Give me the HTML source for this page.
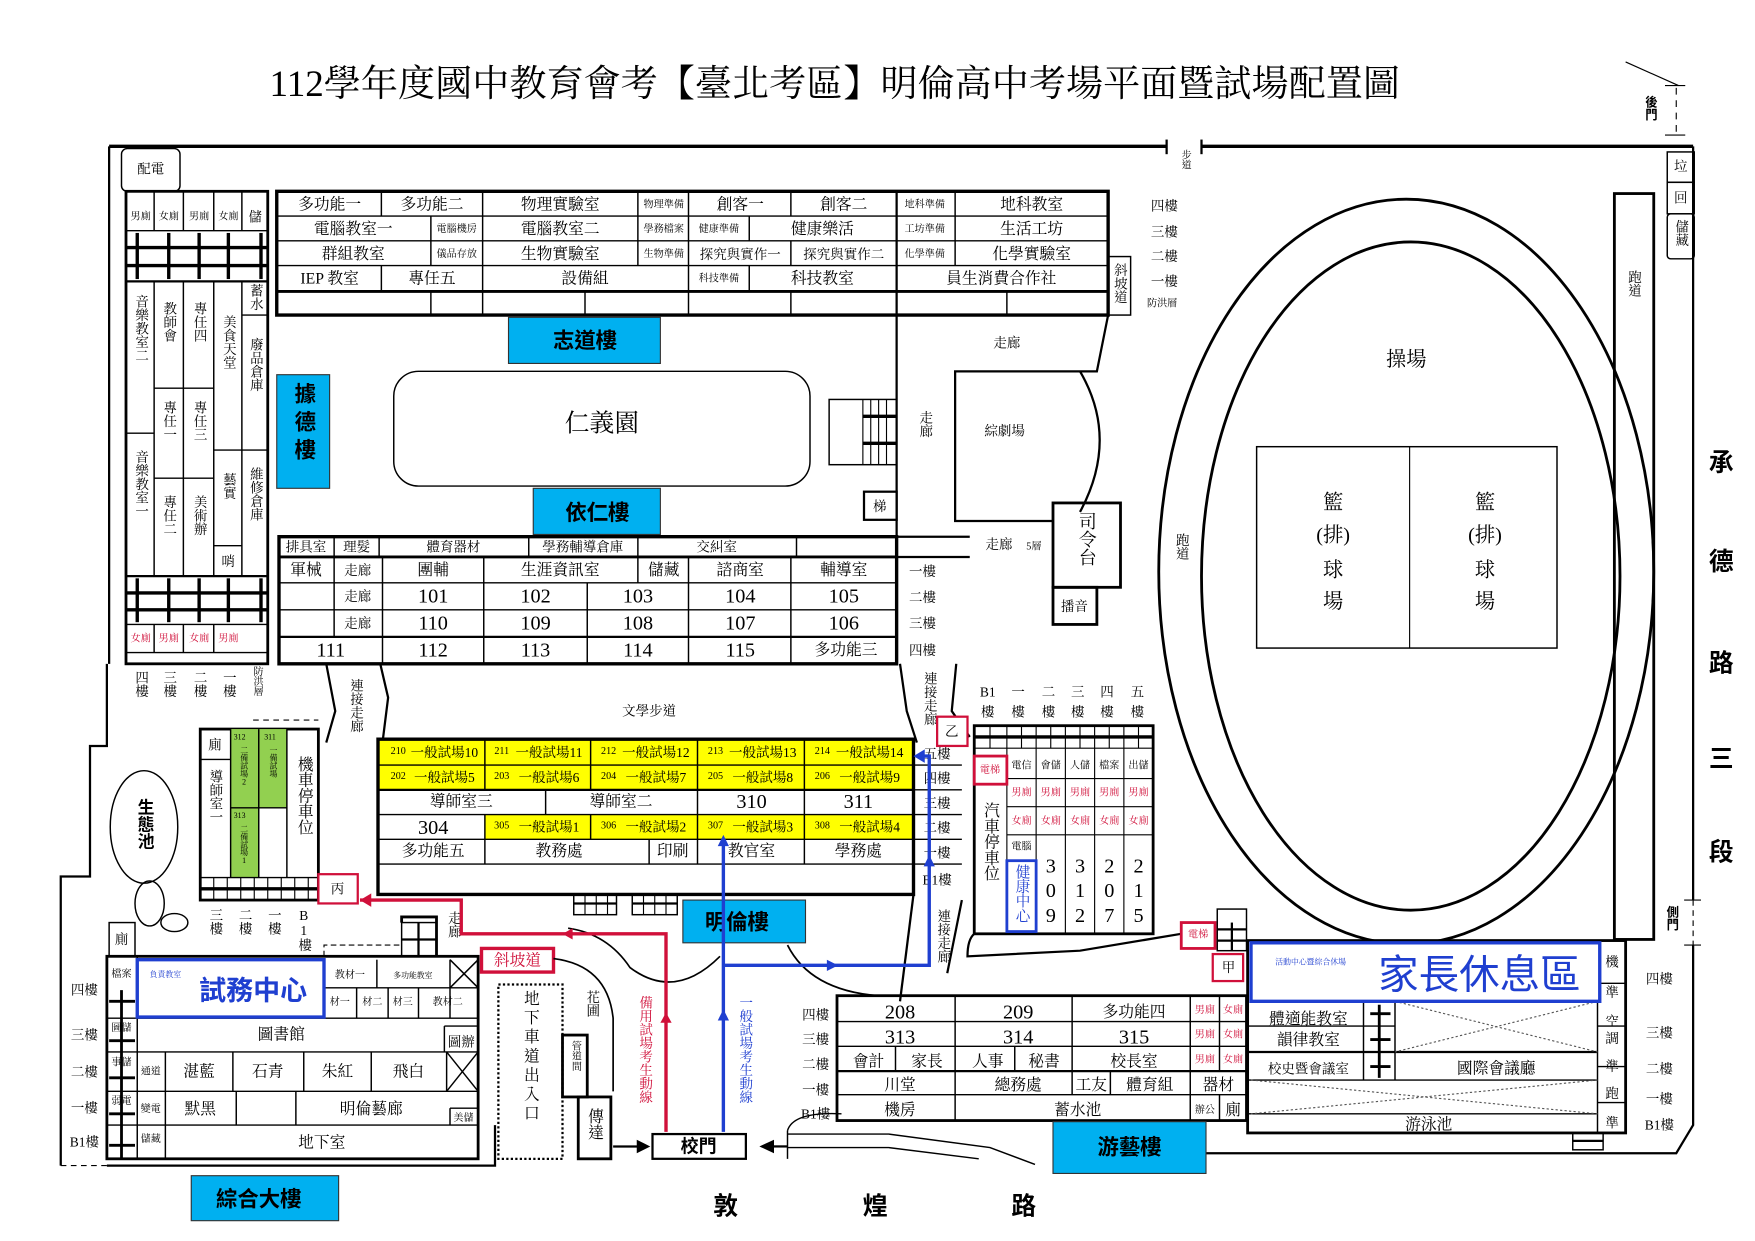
<!DOCTYPE html>
<html><head><meta charset="utf-8">
<style>
html,body{margin:0;padding:0;background:#fff;}
svg{display:block;}
text{font-family:"Liberation Serif","Noto Serif CJK TC","Noto Serif CJK SC",serif;fill:#000;text-anchor:middle;dominant-baseline:central;font-size:14px;}
.s{font-size:9px;}
.m{font-size:12px;}
.n{font-size:18px;}
.r{fill:#d0103a;}
.b{fill:#1f3fd0;}
.v{writing-mode:tb;text-orientation:upright;glyph-orientation-vertical:0;text-anchor:start;dominant-baseline:central;}
.bk{font-family:"Liberation Sans","Noto Sans CJK TC","Noto Sans CJK SC",sans-serif;font-weight:bold;font-size:19px;}
.bs{font-family:"Liberation Sans","Noto Sans CJK TC","Noto Sans CJK SC",sans-serif;}
.L{fill:none;stroke:#000;stroke-width:1.3;}
.T{fill:none;stroke:#000;stroke-width:3;}
.bx{fill:#00b0f0;stroke:#333;stroke-width:1;}
.y{fill:#ffff00;}
.g{fill:#92d050;}
</style></head>
<body>
<svg width="1755" height="1241" viewBox="0 0 1560 1103" xmlns="http://www.w3.org/2000/svg">
<!-- title -->
<text x="742" y="75" style="font-size:33px">112學年度國中教育會考【臺北考區】明倫高中考場平面暨試場配置圖</text>

<!-- outer boundary -->
<path class="T" d="M97,130 H1037 M1068,130 H1505" />
<line x1="1037" y1="124" x2="1037" y2="137" stroke="#000" stroke-width="2"/>
<line x1="1068" y1="124" x2="1068" y2="137" stroke="#000" stroke-width="2"/>
<text class="s v" x="1053" y="133">步道</text>
<path class="L" style="stroke-width:2" d="M97,130 V590 M95,590 V663 H80 V779 H54 V1036"/>
<path class="L" style="stroke-width:2" d="M95,1036 H440 V1000"/>
<path d="M54,1036 H95" stroke="#000" stroke-dasharray="5,4" fill="none"/>
<path class="L" style="stroke-width:2" d="M1505,130 V800 M1505,840 V1000 L1490,1025 H1040"/>
<path d="M1505,800 V840" stroke="#000" stroke-dasharray="5,4"/>
<line x1="1497" y1="800" x2="1512" y2="800" stroke="#000"/><line x1="1497" y1="840" x2="1512" y2="840" stroke="#000"/>
<text class="m v bs" x="1486" y="805" style="font-weight:bold;font-size:11px">側門</text>
<line x1="1445" y1="55" x2="1492" y2="76" stroke="#000"/>
<line x1="1480" y1="76" x2="1498" y2="76" stroke="#000"/>
<path d="M1490,78 V118" stroke="#000" stroke-dasharray="6,5"/>
<line x1="1480" y1="120" x2="1498" y2="120" stroke="#000"/>
<text class="m v bs" x="1467" y="85" style="font-weight:bold;font-size:11px">後門</text>
<rect class="L" x="1482" y="135" width="24" height="27"/><text class="m" x="1494" y="148">垃</text>
<rect class="L" x="1482" y="162" width="24" height="28"/><text class="m" x="1494" y="176">回</text>
<rect class="L" x="1482" y="190" width="24" height="40" rx="3"/><text class="m v" x="1494" y="195">儲藏</text>

<text class="bk" x="1530" y="412" style="font-size:22px">承</text>
<text class="bk" x="1530" y="500" style="font-size:22px">德</text>
<text class="bk" x="1530" y="590" style="font-size:22px">路</text>
<text class="bk" x="1530" y="675" style="font-size:22px">三</text>
<text class="bk" x="1530" y="758" style="font-size:22px">段</text>
<text class="bk" x="645" y="1073" style="font-size:22px">敦</text>
<text class="bk" x="778" y="1073" style="font-size:22px">煌</text>
<text class="bk" x="910" y="1073" style="font-size:22px">路</text>

<rect class="L" x="108" y="132" width="52" height="38" rx="5"/><text class="m" x="134" y="150">配電</text>

<!-- top building -->
<rect class="T" x="246" y="170" width="739" height="110"/>
<g class="L">
<line x1="246" y1="192" x2="985" y2="192"/><line x1="246" y1="214" x2="985" y2="214"/><line x1="246" y1="236" x2="985" y2="236"/>
<line x1="246" y1="259" x2="985" y2="259" style="stroke-width:2.5"/>
<line x1="339" y1="170" x2="339" y2="192"/><line x1="339" y1="236" x2="339" y2="259"/>
<line x1="383" y1="192" x2="383" y2="236"/><line x1="383" y1="259" x2="383" y2="280"/>
<line x1="429" y1="170" x2="429" y2="280"/>
<line x1="520" y1="259" x2="520" y2="280"/>
<line x1="567" y1="170" x2="567" y2="236"/>
<line x1="612" y1="170" x2="612" y2="280"/>
<line x1="666" y1="192" x2="666" y2="214"/><line x1="666" y1="236" x2="666" y2="259"/>
<line x1="703" y1="170" x2="703" y2="192"/><line x1="703" y1="214" x2="703" y2="236"/><line x1="703" y1="259" x2="703" y2="280"/>
<line x1="797" y1="170" x2="797" y2="280" style="stroke-width:2"/>
<line x1="849" y1="170" x2="849" y2="236"/><line x1="895" y1="259" x2="895" y2="280"/>
</g>
<text x="293" y="182">多功能一</text><text x="384" y="182">多功能二</text><text x="498" y="182">物理實驗室</text><text class="s" x="590" y="182">物理準備</text><text x="658" y="182">創客一</text><text x="750" y="182">創客二</text><text class="s" x="822" y="182">地科準備</text><text x="917" y="182">地科教室</text>
<text x="314" y="204">電腦教室一</text><text class="s" x="406" y="204">電腦機房</text><text x="498" y="204">電腦教室二</text><text class="s" x="590" y="204">學務檔案</text><text class="s" x="639" y="204">健康準備</text><text x="731" y="204">健康樂活</text><text class="s" x="822" y="204">工坊準備</text><text x="917" y="204">生活工坊</text>
<text x="314" y="226">群組教室</text><text class="s" x="406" y="226">儀品存放</text><text x="498" y="226">生物實驗室</text><text class="s" x="590" y="226">生物準備</text><text class="m" x="658" y="226">探究與實作一</text><text class="m" x="750" y="226">探究與實作二</text><text class="s" x="822" y="226">化學準備</text><text x="917" y="226">化學實驗室</text>
<text x="293" y="248">IEP 教室</text><text x="384" y="248">專任五</text><text x="520" y="248">設備組</text><text class="s" x="639" y="248">科技準備</text><text x="731" y="248">科技教室</text><text x="890" y="248">員生消費合作社</text>
<rect class="L" x="985" y="228" width="20" height="52"/><text class="m v" x="995" y="234">斜坡道</text>
<text class="m" x="1035" y="183">四樓</text><text class="m" x="1035" y="206">三樓</text><text class="m" x="1035" y="228">二樓</text><text class="m" x="1035" y="250">一樓</text><text class="s" x="1033" y="270">防洪層</text>

<rect class="bx" x="452" y="282" width="135" height="41"/><text class="bk" x="520" y="303">志道樓</text>
<rect class="bx" x="246" y="333" width="47" height="101"/><text class="bk v" x="270" y="340" style="letter-spacing:6px">據德樓</text>
<rect class="L" x="350" y="330" width="370" height="102" rx="22"/><text x="535" y="377" style="font-size:22px">仁義園</text>
<rect class="bx" x="474" y="434" width="113" height="41"/><text class="bk" x="531" y="456">依仁樓</text>
<rect class="L" x="737" y="355" width="60" height="58"/>
<g stroke="#000" stroke-width="1"><line x1="767" y1="355" x2="767" y2="413"/><line x1="774" y1="355" x2="774" y2="413"/><line x1="781" y1="355" x2="781" y2="413"/><line x1="788" y1="355" x2="788" y2="413"/></g>
<line x1="767" y1="370" x2="797" y2="370" stroke="#000" stroke-width="3"/><line x1="767" y1="394" x2="797" y2="394" stroke="#000" stroke-width="3"/>
<rect class="L" x="768" y="437" width="29" height="25" style="stroke-width:2"/><text class="m" x="782" y="450">梯</text>
<line x1="797" y1="280" x2="797" y2="477" stroke="#000" stroke-width="2"/>
<text class="m v" x="822" y="365">走廊</text>
<path class="L" style="stroke-width:2" d="M985,280 L975,330 H849 V463 H936"/>
<path class="L" style="stroke-width:2" d="M960,330 Q995,390 960,455"/>
<text class="m" x="895" y="305">走廊</text><text class="m" x="893" y="383">綜劇場</text>
<rect class="T" x="936" y="447" width="60" height="75" style="stroke-width:2.5"/><text class="v" x="966" y="455" style="font-size:16px">司令台</text>
<rect class="T" x="936" y="522" width="39" height="33" style="stroke-width:2.5"/><text class="m" x="955" y="539">播音</text>
<text class="m" x="888" y="484">走廊</text><text class="s" x="919" y="486">5層</text>

<!-- 依仁 block -->
<rect class="T" x="248" y="477" width="549" height="113"/>
<line x1="797" y1="477" x2="862" y2="477" stroke="#000" stroke-width="2"/><line x1="797" y1="495" x2="862" y2="495" stroke="#000" stroke-width="2"/>
<g class="L">
<line x1="248" y1="495" x2="797" y2="495" style="stroke-width:2.5"/><line x1="248" y1="518" x2="797" y2="518"/><line x1="248" y1="542" x2="797" y2="542"/><line x1="248" y1="566" x2="797" y2="566" style="stroke-width:2"/>
<line x1="297" y1="477" x2="297" y2="566"/><line x1="337" y1="477" x2="337" y2="495"/><line x1="340" y1="495" x2="340" y2="590"/>
<line x1="470" y1="477" x2="470" y2="495"/><line x1="430" y1="495" x2="430" y2="590"/>
<line x1="567" y1="477" x2="567" y2="518"/><line x1="522" y1="518" x2="522" y2="590"/>
<line x1="612" y1="495" x2="612" y2="590"/><line x1="708" y1="477" x2="708" y2="495"/><line x1="703" y1="495" x2="703" y2="590"/>
</g>
<text class="m" x="272" y="486">排具室</text><text class="m" x="317" y="486">理髮</text><text class="m" x="403" y="486">體育器材</text><text class="m" x="518" y="486">學務輔導倉庫</text><text class="m" x="637" y="486">交糾室</text>
<text x="272" y="507">軍械</text><text class="m" x="318" y="507">走廊</text><text x="385" y="507">團輔</text><text x="498" y="507">生涯資訊室</text><text x="590" y="507">儲藏</text><text x="658" y="507">諮商室</text><text x="750" y="507">輔導室</text>
<text class="m" x="318" y="530">走廊</text><text class="n" x="385" y="530">101</text><text class="n" x="476" y="530">102</text><text class="n" x="567" y="530">103</text><text class="n" x="658" y="530">104</text><text class="n" x="750" y="530">105</text>
<text class="m" x="318" y="554">走廊</text><text class="n" x="385" y="554">110</text><text class="n" x="476" y="554">109</text><text class="n" x="567" y="554">108</text><text class="n" x="658" y="554">107</text><text class="n" x="750" y="554">106</text>
<text class="n" x="294" y="578">111</text><text class="n" x="385" y="578">112</text><text class="n" x="476" y="578">113</text><text class="n" x="567" y="578">114</text><text class="n" x="658" y="578">115</text><text x="752" y="578">多功能三</text>
<text class="m" x="820" y="508">一樓</text><text class="m" x="820" y="531">二樓</text><text class="m" x="820" y="554">三樓</text><text class="m" x="820" y="578">四樓</text>

<!-- left music block -->
<rect class="T" x="112" y="170" width="126" height="420" style="stroke-width:2.5"/>
<g class="L">
<line x1="112" y1="205" x2="238" y2="205"/><line x1="112" y1="250" x2="238" y2="250" style="stroke-width:2"/>
<line x1="137" y1="170" x2="137" y2="205"/><line x1="163" y1="170" x2="163" y2="205"/><line x1="190" y1="170" x2="190" y2="205"/><line x1="215" y1="170" x2="215" y2="205"/>
<line x1="137" y1="250" x2="137" y2="512"/><line x1="163" y1="250" x2="163" y2="512"/><line x1="190" y1="250" x2="190" y2="512"/><line x1="215" y1="250" x2="215" y2="512"/>
<line x1="112" y1="385" x2="137" y2="385"/><line x1="137" y1="345" x2="190" y2="345"/><line x1="137" y1="425" x2="190" y2="425"/>
<line x1="190" y1="400" x2="238" y2="400"/><line x1="190" y1="485" x2="215" y2="485"/><line x1="215" y1="280" x2="238" y2="280"/>
<line x1="112" y1="512" x2="238" y2="512" style="stroke-width:2"/><line x1="112" y1="555" x2="238" y2="555"/><line x1="112" y1="580" x2="238" y2="580"/>
<line x1="137" y1="555" x2="137" y2="580"/><line x1="163" y1="555" x2="163" y2="580"/><line x1="190" y1="555" x2="190" y2="580"/>
</g>
<g stroke="#000" stroke-width="3"><line x1="112" y1="220" x2="238" y2="220"/><line x1="112" y1="236" x2="238" y2="236"/><line x1="112" y1="527" x2="238" y2="527"/><line x1="112" y1="542" x2="238" y2="542"/>
<line x1="122" y1="207" x2="122" y2="248"/><line x1="150" y1="207" x2="150" y2="248"/><line x1="177" y1="207" x2="177" y2="248"/><line x1="203" y1="207" x2="203" y2="248"/><line x1="232" y1="207" x2="232" y2="248"/>
<line x1="122" y1="514" x2="122" y2="553"/><line x1="150" y1="514" x2="150" y2="553"/><line x1="177" y1="514" x2="177" y2="553"/><line x1="203" y1="514" x2="203" y2="553"/><line x1="232" y1="514" x2="232" y2="553"/></g>
<text class="s" x="125" y="193">男廁</text><text class="s" x="150" y="193">女廁</text><text class="s" x="177" y="193">男廁</text><text class="s" x="203" y="193">女廁</text><text class="m" x="227" y="193">儲</text>
<text class="m v" x="125" y="262">音樂教室二</text><text class="m v" x="125" y="400">音樂教室一</text>
<text class="m v" x="150" y="268">教師會</text><text class="m v" x="150" y="356">專任一</text><text class="m v" x="150" y="440">專任二</text>
<text class="m v" x="177" y="268">專任四</text><text class="m v" x="177" y="356">專任三</text><text class="m v" x="177" y="440">美術辦</text>
<text class="m v" x="203" y="280">美食天堂</text><text class="m v" x="203" y="420">藝實</text><text class="m" x="203" y="499">哨</text>
<text class="m v" x="227" y="252">蓄水</text><text class="m v" x="227" y="300">廢品倉庫</text><text class="m v" x="227" y="415">維修倉庫</text>
<text class="s r" x="125" y="568">女廁</text><text class="s r" x="150" y="568">男廁</text><text class="s r" x="177" y="568">女廁</text><text class="s r" x="203" y="568">男廁</text>
<text class="m v" x="125" y="596">四樓</text><text class="m v" x="150" y="596">三樓</text><text class="m v" x="177" y="596">二樓</text><text class="m v" x="203" y="596">一樓</text><text class="s v" x="228" y="592">防洪層</text>

<!-- connectors -->
<path class="L" style="stroke-width:2" d="M290,590 L298,632 L290,660"/>
<path class="L" style="stroke-width:2" d="M338,590 L345,620 L340,660"/>
<text class="m v" x="316" y="603">連接走廊</text>
<path class="L" style="stroke-width:2" d="M800,590 L806,632 L815,660"/>
<path class="L" style="stroke-width:2" d="M850,590 L846,632 L862,655"/>
<text class="m v" x="826" y="597">連接走廊</text>
<text class="m" x="577" y="632">文學步道</text>

<!-- 明倫樓 -->
<rect class="y" x="336" y="657" width="476" height="46"/>
<rect class="y" x="431" y="724" width="381" height="22"/>
<g class="L">
<rect x="336" y="657" width="476" height="138" style="stroke-width:3"/>
<line x1="336" y1="680" x2="812" y2="680"/><line x1="336" y1="702" x2="812" y2="702" style="stroke-width:2"/><line x1="336" y1="724" x2="812" y2="724"/><line x1="336" y1="746" x2="812" y2="746"/><line x1="336" y1="768" x2="812" y2="768"/>
<line x1="431" y1="657" x2="431" y2="702"/><line x1="525" y1="657" x2="525" y2="702"/><line x1="620" y1="657" x2="620" y2="768"/><line x1="715" y1="657" x2="715" y2="768"/>
<line x1="485" y1="702" x2="485" y2="724"/><line x1="431" y1="724" x2="431" y2="768"/><line x1="525" y1="724" x2="525" y2="746"/><line x1="577" y1="746" x2="577" y2="768"/>
</g>
<text class="s" x="354" y="668">210</text><text class="m" x="395" y="669">一般試場10</text>
<text class="s" x="446" y="668">211</text><text class="m" x="488" y="669">一般試場11</text>
<text class="s" x="541" y="668">212</text><text class="m" x="583" y="669">一般試場12</text>
<text class="s" x="636" y="668">213</text><text class="m" x="678" y="669">一般試場13</text>
<text class="s" x="731" y="668">214</text><text class="m" x="773" y="669">一般試場14</text>
<text class="s" x="354" y="690">202</text><text class="m" x="395" y="691">一般試場5</text>
<text class="s" x="446" y="690">203</text><text class="m" x="488" y="691">一般試場6</text>
<text class="s" x="541" y="690">204</text><text class="m" x="583" y="691">一般試場7</text>
<text class="s" x="636" y="690">205</text><text class="m" x="678" y="691">一般試場8</text>
<text class="s" x="731" y="690">206</text><text class="m" x="773" y="691">一般試場9</text>
<text class="s" x="446" y="734">305</text><text class="m" x="488" y="735">一般試場1</text>
<text class="s" x="541" y="734">306</text><text class="m" x="583" y="735">一般試場2</text>
<text class="s" x="636" y="734">307</text><text class="m" x="678" y="735">一般試場3</text>
<text class="s" x="731" y="734">308</text><text class="m" x="773" y="735">一般試場4</text>
<text x="410" y="713">導師室三</text><text x="552" y="713">導師室二</text><text class="n" x="668" y="713">310</text><text class="n" x="763" y="713">311</text>
<text class="n" x="385" y="736">304</text>
<text x="385" y="757">多功能五</text><text x="497" y="757">教務處</text><text x="598" y="757">印刷</text><text x="668" y="757">教官室</text><text x="763" y="757">學務處</text>
<g class="L"><line x1="812" y1="680" x2="855" y2="680"/><line x1="812" y1="702" x2="855" y2="702"/><line x1="812" y1="724" x2="855" y2="724"/><line x1="812" y1="746" x2="855" y2="746"/><line x1="812" y1="768" x2="855" y2="768"/></g>
<text class="m" x="833" y="670">五樓</text><text class="m" x="833" y="692">四樓</text><text class="m" x="833" y="714">三樓</text><text class="m" x="833" y="736">二樓</text><text class="m" x="833" y="758">一樓</text><text class="m" x="833" y="782">B1樓</text>
<path class="L" style="stroke-width:2" d="M812,795 L800,890"/>
<path class="L" style="stroke-width:2" d="M855,800 L842,865"/>
<text class="m v" x="838" y="808">連接走廊</text>
<rect class="L" x="510" y="795" width="38" height="18"/><rect class="L" x="562" y="795" width="40" height="18"/>
<g stroke="#000"><line x1="510" y1="803" x2="548" y2="803" stroke-width="2"/><line x1="562" y1="803" x2="602" y2="803" stroke-width="2"/>
<line x1="520" y1="795" x2="520" y2="813"/><line x1="530" y1="795" x2="530" y2="813"/><line x1="540" y1="795" x2="540" y2="813"/><line x1="572" y1="795" x2="572" y2="813"/><line x1="582" y1="795" x2="582" y2="813"/><line x1="592" y1="795" x2="592" y2="813"/></g>
<rect class="bx" x="607" y="800" width="109" height="38"/><text class="bk" x="655" y="820">明倫樓</text>
<path class="L" style="stroke-width:1.5" d="M505,825 Q540,830 560,860 Q600,890 640,850"/>
<path class="L" style="stroke-width:1.5" d="M700,840 Q720,880 780,885"/>

<!-- green block -->
<rect class="T" x="178" y="648" width="105" height="152" style="stroke-width:2.5"/>
<rect class="g" x="205" y="648" width="50" height="70"/><rect class="g" x="205" y="718" width="25" height="62"/>
<g class="L"><line x1="205" y1="648" x2="205" y2="780"/><line x1="230" y1="648" x2="230" y2="780"/><line x1="255" y1="648" x2="255" y2="780"/><line x1="205" y1="718" x2="255" y2="718"/><line x1="178" y1="675" x2="205" y2="675"/><line x1="178" y1="780" x2="283" y2="780"/></g>
<line x1="178" y1="790" x2="283" y2="790" stroke="#000" stroke-width="3"/>
<g stroke="#000"><line x1="190" y1="780" x2="190" y2="800"/><line x1="202" y1="780" x2="202" y2="800"/><line x1="214" y1="780" x2="214" y2="800"/><line x1="226" y1="780" x2="226" y2="800"/><line x1="238" y1="780" x2="238" y2="800"/><line x1="250" y1="780" x2="250" y2="800"/><line x1="262" y1="780" x2="262" y2="800"/><line x1="274" y1="780" x2="274" y2="800"/></g>
<path d="M225,640 H283" stroke="#000" stroke-dasharray="5,4"/>
<text class="m" x="191" y="662">廁</text><text class="m v" x="191" y="684">導師室一</text>
<text class="s" x="213" y="655" style="font-size:7px">312</text><text class="s v" x="217" y="663" style="font-size:7px">二備試場2</text>
<text class="s" x="240" y="655" style="font-size:7px">311</text><text class="s v" x="243" y="663" style="font-size:7px">一備試場</text>
<text class="s" x="213" y="725" style="font-size:7px">313</text><text class="s v" x="217" y="733" style="font-size:7px">二備試場1</text>
<text class="v" x="270" y="672">機車停車位</text>
<text class="m v" x="191" y="807">三樓</text><text class="m v" x="217" y="807">二樓</text><text class="m v" x="243" y="807">一樓</text><text class="m v" x="270" y="807">B1樓</text>
<rect x="283" y="777" width="35" height="26" fill="#fff" stroke="#d0103a" stroke-width="2"/><text class="m" x="300" y="790">丙</text>
<ellipse class="L" cx="128" cy="735" rx="30" ry="50"/><text class="bk v" x="128" y="710" style="font-size:15px">生態池</text>
<ellipse class="L" cx="133" cy="803" rx="13" ry="20"/><ellipse class="L" cx="155" cy="820" rx="12" ry="8"/>

<!-- 綜合大樓 -->
<rect class="L" x="95" y="850" width="330" height="180" style="stroke-width:2.5"/>
<g class="L">
<line x1="95" y1="905" x2="425" y2="905"/><line x1="95" y1="935" x2="425" y2="935"/><line x1="95" y1="970" x2="425" y2="970"/><line x1="95" y1="1000" x2="425" y2="1000"/>
<line x1="122" y1="850" x2="122" y2="1030"/>
<line x1="335" y1="853" x2="335" y2="878"/><line x1="400" y1="853" x2="400" y2="905"/><line x1="288" y1="878" x2="425" y2="878"/>
<line x1="317" y1="878" x2="317" y2="905"/><line x1="345" y1="878" x2="345" y2="905"/><line x1="372" y1="878" x2="372" y2="905"/>
<line x1="395" y1="912" x2="395" y2="935"/><line x1="395" y1="912" x2="425" y2="912"/>
<line x1="147" y1="935" x2="147" y2="1030"/><line x1="207" y1="935" x2="207" y2="970"/><line x1="270" y1="935" x2="270" y2="970"/><line x1="330" y1="935" x2="330" y2="970"/><line x1="397" y1="935" x2="397" y2="970"/>
<line x1="210" y1="970" x2="210" y2="1000"/><line x1="263" y1="970" x2="263" y2="1000"/><line x1="400" y1="985" x2="400" y2="1000"/><line x1="400" y1="985" x2="425" y2="985"/>
<line x1="400" y1="853" x2="425" y2="878"/><line x1="425" y1="853" x2="400" y2="878"/>
<line x1="397" y1="935" x2="425" y2="970"/><line x1="425" y1="935" x2="397" y2="970"/>
</g>
<g stroke="#000" stroke-width="2.5"><line x1="97" y1="890" x2="120" y2="890"/><line x1="97" y1="925" x2="120" y2="925"/><line x1="97" y1="958" x2="120" y2="958"/><line x1="97" y1="990" x2="120" y2="990"/><line x1="97" y1="1018" x2="120" y2="1018"/><line x1="108" y1="880" x2="108" y2="1030"/></g>
<text class="s" x="108" y="866">檔案</text><text class="s" x="108" y="914">圖儲</text><text class="s" x="108" y="945">事儲</text><text class="s" x="108" y="979">弱電</text><text class="s" x="134" y="1013">儲藏</text>
<rect x="122" y="853" width="166" height="51" fill="#fff" stroke="#1f3fd0" stroke-width="3"/>
<text class="s b" x="147" y="866" style="font-size:7px">負責教室</text>
<text class="bs b" x="225" y="881" style="font-size:24px;font-weight:bold">試務中心</text>
<text class="s" x="311" y="867">教材一</text><text class="s" x="367" y="867" style="font-size:7px">多功能教室</text>
<text class="s" x="302" y="891">材一</text><text class="s" x="331" y="891">材二</text><text class="s" x="358" y="891">材三</text><text class="s" x="398" y="891">教材二</text>
<text x="250" y="920">圖書館</text><text class="m" x="410" y="926">圖辦</text>
<text class="s" x="134" y="953">通道</text><text x="177" y="953">湛藍</text><text x="238" y="953">石青</text><text x="300" y="953">朱紅</text><text x="363" y="953">飛白</text>
<text class="s" x="134" y="986">變電</text><text x="178" y="986">默黑</text><text x="330" y="986">明倫藝廊</text><text class="s" x="412" y="994">美儲</text>
<text x="286" y="1016">地下室</text>
<text class="m" x="75" y="880">四樓</text><text class="m" x="75" y="920">三樓</text><text class="m" x="75" y="953">二樓</text><text class="m" x="75" y="985">一樓</text><text class="m" x="75" y="1015">B1樓</text>
<rect class="L" x="97" y="820" width="23" height="30"/><text class="m" x="108" y="835">廁</text>
<rect class="L" x="357" y="820" width="31" height="30"/><g stroke="#000" stroke-width="2"><line x1="357" y1="835" x2="388" y2="835"/><line x1="372" y1="820" x2="372" y2="850"/></g>
<path class="L" style="stroke-width:2.5" d="M388,850 V815 H357 V820"/>
<path d="M288,850 V840 H355" stroke="#000" stroke-dasharray="5,3" fill="none"/>
<text class="m v" x="403" y="810">走廊</text>
<rect class="bx" x="170" y="1045" width="131" height="40"/><text class="bk" x="230" y="1066">綜合大樓</text>

<rect x="428" y="843" width="64" height="21" fill="#fff" stroke="#d0103a" stroke-width="3"/><text class="r" x="460" y="854">斜坡道</text>
<rect x="443" y="875" width="57" height="155" fill="none" stroke="#000" stroke-width="2" stroke-dasharray="2,2"/>
<text class="v" x="471" y="880" style="font-size:14px;letter-spacing:3px">地下車道出入口</text>
<path class="L" style="stroke-width:1.5" d="M492,852 Q540,858 545,905 V970"/>
<text class="m v" x="526" y="880">花圃</text>
<rect class="L" x="500" y="920" width="22" height="55" style="stroke-width:2.5"/><text class="s v" x="511" y="925">管道間</text>
<rect class="L" x="514" y="975" width="29" height="55" style="stroke-width:2.5"/><text class="v" x="528" y="985">傳達</text>
<rect class="L" x="580" y="1008" width="83" height="22" style="stroke-width:2"/><text class="bk" x="621" y="1019" style="font-size:16px">校門</text>
<line x1="545" y1="1019" x2="570" y2="1019" stroke="#000" stroke-width="2"/><path d="M578,1019 L566,1013 L566,1025z"/>
<line x1="700" y1="1019" x2="686" y2="1019" stroke="#000" stroke-width="2"/><path d="M675,1019 L688,1013 L688,1025z"/>
<path class="L" d="M700,1005 Q705,988 748,990 M700,1030 V1005 M700,1008 H790 L880,1020 L920,1035 M700,1020 H790 L870,1030"/>

<!-- routes -->
<path d="M592,1006 V830 H410 V800 H320" fill="none" stroke="#d0103a" stroke-width="3"/>
<path d="M320,800 L330,794 L330,806z" fill="#d0103a"/>
<path d="M592,900 l-5,9 h10z" fill="#d0103a"/>
<path d="M500,830 l9,-5 v10z" fill="#d0103a"/>
<text class="m v r" x="573" y="885">備用試場考生動線</text>
<path d="M643,1006 V745 M643,858 H826 V672 H815" fill="none" stroke="#1f3fd0" stroke-width="3"/>
<path d="M812,672 L822,666 L822,678z" fill="#1f3fd0"/>
<path d="M643,897 l-5,10 h10z" fill="#1f3fd0"/><path d="M643,742 l-5,10 h10z" fill="#1f3fd0"/>
<path d="M745,858 l-10,-5 v10z" fill="#1f3fd0"/><path d="M826,760 l-5,10 h10z" fill="#1f3fd0"/>
<text class="m v b" x="662" y="885">一般試場考生動線</text>

<!-- right toilet block -->
<rect class="L" x="866" y="645" width="159" height="185" style="stroke-width:2.5"/>
<line x1="866" y1="655" x2="1025" y2="655" stroke="#000" stroke-width="3"/><line x1="866" y1="665" x2="1025" y2="665" stroke="#000"/>
<g stroke="#000"><line x1="880" y1="645" x2="880" y2="665"/><line x1="895" y1="645" x2="895" y2="830"/><line x1="908" y1="645" x2="908" y2="665"/><line x1="921" y1="645" x2="921" y2="830"/><line x1="934" y1="645" x2="934" y2="665"/><line x1="947" y1="645" x2="947" y2="830"/><line x1="960" y1="645" x2="960" y2="665"/><line x1="973" y1="645" x2="973" y2="830"/><line x1="986" y1="645" x2="986" y2="665"/><line x1="999" y1="645" x2="999" y2="830"/><line x1="1012" y1="645" x2="1012" y2="665"/>
<line x1="895" y1="692" x2="1025" y2="692"/><line x1="895" y1="717" x2="1025" y2="717"/><line x1="895" y1="742" x2="1025" y2="742"/><line x1="895" y1="765" x2="921" y2="765"/></g>
<text class="s" x="908" y="681">電信</text><text class="s" x="934" y="681">會儲</text><text class="s" x="960" y="681">人儲</text><text class="s" x="986" y="681">檔案</text><text class="s" x="1012" y="681">出儲</text>
<text class="s r" x="908" y="705">男廁</text><text class="s r" x="934" y="705">男廁</text><text class="s r" x="960" y="705">男廁</text><text class="s r" x="986" y="705">男廁</text><text class="s r" x="1012" y="705">男廁</text>
<text class="s r" x="908" y="730">女廁</text><text class="s r" x="934" y="730">女廁</text><text class="s r" x="960" y="730">女廁</text><text class="s r" x="986" y="730">女廁</text><text class="s r" x="1012" y="730">女廁</text>
<text class="s" x="908" y="753">電腦</text>
<rect x="895" y="765" width="26" height="63" fill="#fff" stroke="#1f3fd0" stroke-width="2.5"/><text class="m v b" x="908" y="768" style="font-size:13px">健康中心</text>
<text class="n" x="934" y="770">3</text><text class="n" x="934" y="792">0</text><text class="n" x="934" y="814">9</text>
<text class="n" x="960" y="770">3</text><text class="n" x="960" y="792">1</text><text class="n" x="960" y="814">2</text>
<text class="n" x="986" y="770">2</text><text class="n" x="986" y="792">0</text><text class="n" x="986" y="814">7</text>
<text class="n" x="1012" y="770">2</text><text class="n" x="1012" y="792">1</text><text class="n" x="1012" y="814">5</text>
<rect x="866" y="672" width="29" height="25" fill="#fff" stroke="#d0103a" stroke-width="2.5"/><text class="s r" x="880" y="685">電梯</text>
<text class="v" x="880" y="713">汽車停車位</text>
<text class="m" x="878" y="615">B1</text><text class="m" x="905" y="615">一</text><text class="m" x="932" y="615">二</text><text class="m" x="958" y="615">三</text><text class="m" x="984" y="615">四</text><text class="m" x="1011" y="615">五</text>
<text class="m" x="878" y="633">樓</text><text class="m" x="905" y="633">樓</text><text class="m" x="932" y="633">樓</text><text class="m" x="958" y="633">樓</text><text class="m" x="984" y="633">樓</text><text class="m" x="1011" y="633">樓</text>
<rect x="833" y="637" width="27" height="26" fill="#fff" stroke="#d0103a" stroke-width="2"/><text class="m" x="846" y="650">乙</text>
<path class="L" style="stroke-width:2" d="M866,830 Q860,835 860,850 L960,845 L1050,830"/>

<!-- track -->
<ellipse class="L" cx="1250" cy="508" rx="220" ry="331" style="stroke-width:2.5"/>
<ellipse class="L" cx="1254" cy="512" rx="186" ry="297" style="stroke-width:2.5"/>
<rect class="L" x="1117" y="397" width="267" height="179"/><line x1="1253" y1="397" x2="1253" y2="576" stroke="#000"/>
<text x="1250" y="320" style="font-size:18px">操場</text>
<text x="1185" y="447" style="font-size:18px">籃</text><text x="1185" y="476" style="font-size:18px">(排)</text><text x="1185" y="507" style="font-size:18px">球</text><text x="1185" y="535" style="font-size:18px">場</text>
<text x="1320" y="447" style="font-size:18px">籃</text><text x="1320" y="476" style="font-size:18px">(排)</text><text x="1320" y="507" style="font-size:18px">球</text><text x="1320" y="535" style="font-size:18px">場</text>
<text class="m v" x="1050" y="474">跑道</text>
<rect class="L" x="1435" y="172" width="35" height="663" style="stroke-width:2.5"/>
<text class="m v" x="1452" y="240">跑道</text>

<!-- 游藝樓 block -->
<rect class="L" x="744" y="885" width="364" height="111" style="stroke-width:2.5"/>
<g class="L">
<line x1="744" y1="908" x2="1108" y2="908"/><line x1="744" y1="930" x2="1108" y2="930"/><line x1="744" y1="952" x2="1108" y2="952" style="stroke-width:2"/><line x1="744" y1="973" x2="1108" y2="973"/>
<line x1="849" y1="885" x2="849" y2="996"/><line x1="953" y1="885" x2="953" y2="973"/><line x1="1058" y1="885" x2="1058" y2="996"/><line x1="1084" y1="885" x2="1084" y2="952"/><line x1="1084" y1="973" x2="1084" y2="996"/>
<line x1="796" y1="930" x2="796" y2="952"/><line x1="902" y1="930" x2="902" y2="952"/><line x1="987" y1="952" x2="987" y2="973"/>
</g>
<text class="n" x="800" y="900">208</text><text class="n" x="905" y="900">209</text><text x="1008" y="900">多功能四</text>
<text class="n" x="800" y="922">313</text><text class="n" x="905" y="922">314</text><text class="n" x="1008" y="922">315</text>
<text x="772" y="944">會計</text><text x="824" y="944">家長</text><text x="878" y="944">人事</text><text x="928" y="944">秘書</text><text x="1008" y="944">校長室</text>
<text x="800" y="965">川堂</text><text x="905" y="965">總務處</text><text x="970" y="965">工友</text><text x="1022" y="965">體育組</text><text x="1083" y="965">器材</text>
<text x="800" y="987">機房</text><text x="958" y="987">蓄水池</text><text class="s" x="1071" y="987">辦公</text><text x="1096" y="987">廁</text>
<text class="s r" x="1071" y="898">男廁</text><text class="s r" x="1096" y="898">女廁</text><text class="s r" x="1071" y="920">男廁</text><text class="s r" x="1096" y="920">女廁</text><text class="s r" x="1071" y="942">男廁</text><text class="s r" x="1096" y="942">女廁</text>
<text class="m" x="725" y="902">四樓</text><text class="m" x="725" y="924">三樓</text><text class="m" x="725" y="946">二樓</text><text class="m" x="725" y="969">一樓</text><text class="m" x="725" y="990">B1樓</text>
<rect class="bx" x="936" y="997" width="136" height="46"/><text class="bk" x="1004" y="1020">游藝樓</text>

<!-- 活動中心 -->
<rect class="L" x="1109" y="836" width="336" height="171" style="stroke-width:2.5"/>
<g class="L">
<line x1="1420" y1="836" x2="1420" y2="1007"/>
<line x1="1109" y1="912" x2="1240" y2="912"/><line x1="1109" y1="935" x2="1420" y2="935" style="stroke-width:2"/><line x1="1109" y1="960" x2="1420" y2="960"/><line x1="1109" y1="990" x2="1420" y2="990"/>
<line x1="1212" y1="890" x2="1212" y2="960"/><line x1="1240" y1="890" x2="1240" y2="960"/>
<line x1="1420" y1="874" x2="1445" y2="874"/><line x1="1420" y1="912" x2="1445" y2="912"/><line x1="1420" y1="948" x2="1445" y2="948"/><line x1="1420" y1="980" x2="1445" y2="980"/>
</g>
<g stroke="#555" stroke-dasharray="2,2"><line x1="1240" y1="890" x2="1420" y2="935"/><line x1="1420" y1="890" x2="1240" y2="935"/><line x1="1112" y1="960" x2="1420" y2="990"/><line x1="1420" y1="960" x2="1112" y2="990"/></g>
<g stroke="#000" stroke-width="2.5"><line x1="1218" y1="901" x2="1236" y2="901"/><line x1="1218" y1="924" x2="1236" y2="924"/><line x1="1218" y1="948" x2="1236" y2="948"/><line x1="1226" y1="893" x2="1226" y2="958"/></g>
<rect x="1112" y="838" width="310" height="52" fill="#fff" stroke="#1f3fd0" stroke-width="3"/>
<text class="s b" x="1165" y="855" style="font-size:7px">活動中心暨綜合休場</text>
<text class="bs b" x="1315" y="866" style="font-size:36px">家長休息區</text>
<text x="1163" y="906">體適能教室</text><text x="1163" y="925">韻律教室</text><text class="m" x="1163" y="950">校史暨會議室</text><text x="1330" y="950">國際會議廳</text><text x="1270" y="1000">游泳池</text>
<text class="m" x="1433" y="855">機</text><text class="m" x="1433" y="882">準</text><text class="m" x="1433" y="908">空</text><text class="m" x="1433" y="923">調</text><text class="m" x="1433" y="948">準</text><text class="m" x="1433" y="972">跑</text><text class="m" x="1433" y="998">準</text>
<text class="m" x="1475" y="870">四樓</text><text class="m" x="1475" y="918">三樓</text><text class="m" x="1475" y="950">二樓</text><text class="m" x="1475" y="977">一樓</text><text class="m" x="1475" y="1000">B1樓</text>
<rect class="L" x="1398" y="1007" width="27" height="15"/><line x1="1398" y1="1014" x2="1425" y2="1014" stroke="#000" stroke-width="2"/>
<rect x="1050" y="820" width="30" height="23" fill="#fff" stroke="#d0103a" stroke-width="2.5"/><text class="s r" x="1065" y="831">電梯</text>
<rect class="L" x="1082" y="808" width="26" height="37"/><g stroke="#000" stroke-width="2"><line x1="1095" y1="820" x2="1095" y2="845"/><line x1="1082" y1="826" x2="1108" y2="826"/><line x1="1082" y1="836" x2="1108" y2="836"/></g>
<rect x="1078" y="848" width="27" height="24" fill="#fff" stroke="#d0103a" stroke-width="2"/><text class="m" x="1092" y="860">甲</text>
</svg>
</body></html>
